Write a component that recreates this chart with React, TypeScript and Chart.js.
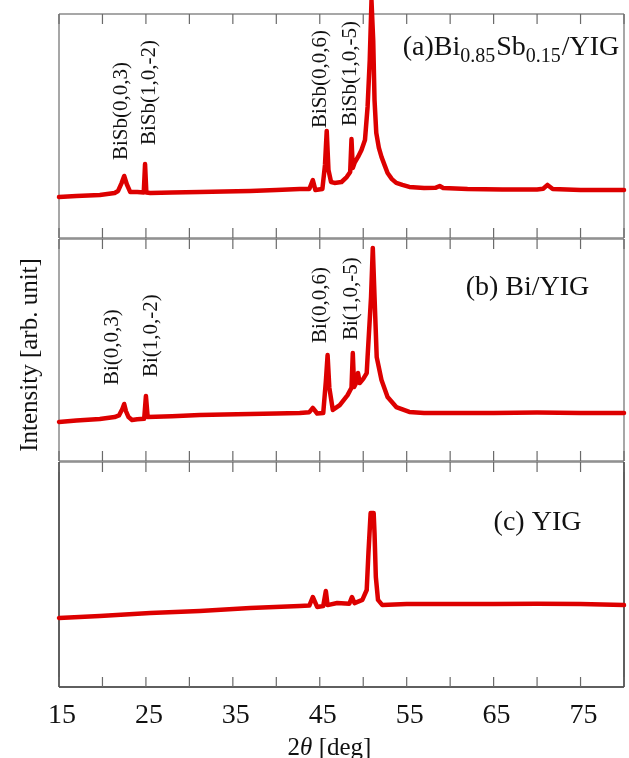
import React, { useEffect, useRef } from 'react';
import { Chart, registerables } from 'chart.js';
Chart.register(...registerables);

const FONT = '"Liberation Serif", "Times New Roman", Times, serif';
const RED = '#dd0000';

// x axis (2θ, deg)
const X_MIN = 15;
const X_MAX = 80;
const X_STEP = 5;
const xTickLabels = ['15', '25', '35', '45', '55', '65', '75'];

// (a) Bi0.85Sb0.15/YIG
const angleA = [15, 17, 19.7, 21.4, 21.8, 22.2, 22.5, 22.8, 23.2, 24.0, 24.75, 24.9, 25.05, 25.5, 28, 31.2, 34, 37, 40, 42.7, 43.8, 44.2, 44.5, 45.3, 45.6, 45.8, 46.0, 46.3, 46.7, 47.5, 48.1, 48.5, 48.65, 48.8, 49.0, 49.4, 49.8, 50.2, 50.5, 50.75, 50.95, 51.15, 51.3, 51.5, 51.8, 52.1, 52.5, 52.8, 53.3, 53.8, 54.5, 55.3, 57, 58.3, 58.8, 59.2, 62, 66, 70, 70.7, 71.2, 71.8, 75, 80];
const intensityA = [18.3, 18.8, 19.2, 20.1, 21, 24.5, 27.7, 24, 20.5, 20.5, 20.3, 33, 20.3, 20.1, 20.3, 20.5, 20.8, 21, 21.4, 21.9, 21.9, 25.9, 21.4, 21.9, 32.6, 47.8, 30.4, 25, 24.6, 25, 27.2, 29.5, 44.2, 31.3, 33.5, 36.2, 39.3, 43.75, 58.5, 79.5, 106, 88, 61.6, 46.9, 40.2, 36.2, 32.1, 29, 26.3, 24.6, 23.7, 22.8, 22.3, 22.4, 23.2, 22.3, 21.9, 21.7, 21.7, 22, 23.7, 21.9, 21.4, 21.4];

// (b) Bi/YIG
const angleB = [15, 17, 19.7, 21.4, 21.9, 22.3, 22.5, 22.7, 23.0, 23.4, 24.0, 24.8, 25.0, 25.2, 28, 31.2, 34, 37, 40, 42.7, 43.8, 44.2, 44.7, 45.4, 45.7, 45.9, 46.1, 46.5, 47.3, 48.2, 48.65, 48.8, 48.95, 49.3, 49.4, 49.6, 50.0, 50.4, 50.5, 50.9, 51.1, 51.3, 51.55, 52.1, 52.8, 53.8, 55.3, 57, 60, 65, 70, 75, 80];
const intensityB = [17.6, 18.2, 18.9, 19.8, 20.5, 23.5, 25.7, 22.5, 19.8, 18.5, 18.8, 19, 29.3, 19.8, 20.2, 20.7, 21, 21.2, 21.4, 21.6, 22, 23.9, 21.4, 21.6, 36, 47.7, 33, 23, 25.2, 29.7, 33, 48.6, 33.3, 36, 39.6, 35.1, 37, 39.6, 46.8, 73.9, 96, 73.9, 46.8, 36.5, 28.8, 24.3, 22.1, 21.6, 21.6, 21.6, 21.8, 21.6, 21.6];

// (c) YIG
const angleC = [15, 19.7, 25.5, 31.2, 37, 42.7, 43.8, 44.2, 44.7, 45.4, 45.7, 45.9, 47, 48.4, 48.7, 49.0, 49.9, 50.4, 50.6, 50.85, 51.2, 51.3, 51.45, 51.7, 52.2, 55, 60, 65, 70, 75, 80];
const intensityC = [30.7, 31.6, 32.9, 33.8, 35.1, 36, 36.2, 40, 35.6, 36, 42.7, 36.4, 37.3, 37, 40, 37.3, 38.7, 43.1, 59.6, 77.3, 77.3, 68.4, 48.9, 38.7, 36.4, 36.9, 36.9, 36.9, 37, 36.9, 36.4];

// peak annotations (text, 2θ, intensity where the rotated text starts)
const peakTextA = ['BiSb(0,0,3)', 'BiSb(1,0,-2)', 'BiSb(0,0,6)', 'BiSb(1,0,-5)'];
const peakXA = [22.24, 25.46, 45.1, 48.56];
const peakYA = [34.8, 41.5, 49.1, 50];
const peakTextB = ['Bi(0,0,3)', 'Bi(1,0,-2)', 'Bi(0,0,6)', 'Bi(1,0,-5)'];
const peakXB = [21.2, 25.69, 45.1, 48.6];
const peakYB = [34.2, 37.8, 53.2, 54.5];

// panel titles: [text, subscript?]
const titleA: [string, boolean][] = [['(a)Bi', false], ['0.85', true], ['Sb', false], ['0.15', true], ['/YIG', false]];
const titleB: [string, boolean][] = [['(b) Bi/YIG', false]];
const titleC: [string, boolean][] = [['(c) YIG', false]];
const titlePosA = [54.54, 81.7];
const titlePosB = [61.78, 74.8];
const titlePosC = [65.0, 69.8];

const yTitle = 'Intensity [arb. unit]';

type Extra = {
  peaks?: { text: string[]; x: number[]; y: number[] };
  title: [string, boolean][];
  titlePos: number[];
  sideColor: string;
  bottomColor: string;
  topColor: string;
  xLabels?: boolean;
  yTitle?: boolean;
};

function framePlugin(extra: Extra) {
  return {
    id: 'frame',
    beforeDatasetsDraw(chart: any) {
      const { ctx, chartArea } = chart;
      const { left, right, top, bottom } = chartArea;
      const xs = chart.scales.x;
      ctx.save();
      ctx.lineWidth = 1.5;
      ctx.strokeStyle = extra.topColor;
      ctx.beginPath(); ctx.moveTo(left, top); ctx.lineTo(right, top); ctx.stroke();
      ctx.strokeStyle = extra.bottomColor;
      ctx.beginPath(); ctx.moveTo(left, bottom); ctx.lineTo(right, bottom); ctx.stroke();
      ctx.strokeStyle = extra.sideColor;
      ctx.beginPath(); ctx.moveTo(left, top); ctx.lineTo(left, bottom); ctx.stroke();
      ctx.beginPath(); ctx.moveTo(right, top); ctx.lineTo(right, bottom); ctx.stroke();
      ctx.strokeStyle = '#6a6a6a';
      ctx.lineWidth = 1.2;
      for (let v = X_MIN; v <= X_MAX; v += X_STEP) {
        const px = xs.getPixelForValue(v);
        ctx.beginPath(); ctx.moveTo(px, top); ctx.lineTo(px, top + 10); ctx.stroke();
        ctx.beginPath(); ctx.moveTo(px, bottom); ctx.lineTo(px, bottom - 10); ctx.stroke();
      }
      ctx.restore();
    },
    afterDatasetsDraw(chart: any) {
      const { ctx, chartArea } = chart;
      const xs = chart.scales.x;
      const ys = chart.scales.y;
      ctx.save();
      ctx.fillStyle = '#111';
      if (extra.peaks) {
        ctx.font = `21px ${FONT}`;
        ctx.textAlign = 'left';
        ctx.textBaseline = 'middle';
        extra.peaks.text.forEach((t, i) => {
          ctx.save();
          ctx.translate(xs.getPixelForValue(extra.peaks!.x[i]), ys.getPixelForValue(extra.peaks!.y[i]));
          ctx.rotate(-Math.PI / 2);
          ctx.fillText(t, 0, 0);
          ctx.restore();
        });
      }
      // panel title
      ctx.textAlign = 'left';
      ctx.textBaseline = 'alphabetic';
      let tx = xs.getPixelForValue(extra.titlePos[0]);
      const ty = ys.getPixelForValue(extra.titlePos[1]);
      extra.title.forEach(([t, sub]) => {
        ctx.font = sub ? `20px ${FONT}` : `28px ${FONT}`;
        ctx.fillText(t, tx, sub ? ty + 7 : ty);
        tx += ctx.measureText(t).width + (sub ? 1 : 0);
      });
      if (extra.xLabels) {
        ctx.font = `28px ${FONT}`;
        ctx.textAlign = 'center';
        xTickLabels.forEach((lab) => {
          const px = xs.getPixelForValue(Number(lab));
          ctx.fillText(lab, px + 3, chartArea.bottom + 36);
        });
        // axis title 2θ [deg]
        const parts: [string, string][] = [['2', `25px ${FONT}`], ['θ', `italic 25px ${FONT}`], [' [deg]', `25px ${FONT}`]];
        let w = 0;
        parts.forEach(([t, f]) => { ctx.font = f; w += ctx.measureText(t).width; });
        let sx = (chartArea.left + chartArea.right) / 2 - 12 - w / 2;
        ctx.textAlign = 'left';
        parts.forEach(([t, f]) => {
          ctx.font = f;
          ctx.fillText(t, sx, chartArea.bottom + 68);
          sx += ctx.measureText(t).width;
        });
      }
      if (extra.yTitle) {
        ctx.save();
        ctx.font = `25px ${FONT}`;
        ctx.textAlign = 'center';
        ctx.textBaseline = 'middle';
        ctx.translate(30, chartArea.top + 116);
        ctx.rotate(-Math.PI / 2);
        ctx.fillText(yTitle, 0, 0);
        ctx.restore();
      }
      ctx.restore();
    },
  };
}

function makeChart(canvas: HTMLCanvasElement, xsArr: number[], ysArr: number[], padding: any, extra: Extra) {
  return new Chart(canvas, {
    type: 'line',
    data: {
      datasets: [{
        data: xsArr.map((x, i) => ({ x, y: ysArr[i] })),
        borderColor: RED,
        borderWidth: 4.5,
        pointRadius: 0,
        tension: 0,
        clip: false as any,
        borderJoinStyle: 'round',
        borderCapStyle: 'round',
      }],
    },
    options: {
      responsive: false,
      maintainAspectRatio: false,
      animation: false,
      events: [],
      layout: { padding },
      plugins: { legend: { display: false }, tooltip: { enabled: false } },
      scales: {
        x: { type: 'linear', min: X_MIN, max: X_MAX, display: false },
        y: { type: 'linear', min: 0, max: 100, display: false },
      },
    } as any,
    plugins: [framePlugin(extra)],
  });
}

export default function App() {
  const c1 = useRef<HTMLCanvasElement>(null);
  const c2 = useRef<HTMLCanvasElement>(null);
  const c3 = useRef<HTMLCanvasElement>(null);

  useEffect(() => {
    const gray = '#8a8a8a';
    const dark = '#2a2a2a';
    const ch1 = makeChart(c1.current!, angleA, intensityA, { top: 14, bottom: 10, left: 59, right: 5 }, {
      peaks: { text: peakTextA, x: peakXA, y: peakYA }, title: titleA, titlePos: titlePosA,
      sideColor: gray, topColor: gray, bottomColor: gray,
    });
    const ch2 = makeChart(c2.current!, angleB, intensityB, { top: 9, bottom: 9, left: 59, right: 5 }, {
      peaks: { text: peakTextB, x: peakXB, y: peakYB }, title: titleB, titlePos: titlePosB,
      sideColor: gray, topColor: gray, bottomColor: gray, yTitle: true,
    });
    const ch3 = makeChart(c3.current!, angleC, intensityC, { top: 10, bottom: 85, left: 59, right: 5 }, {
      title: titleC, titlePos: titlePosC,
      sideColor: dark, topColor: gray, bottomColor: dark, xLabels: true,
    });
    return () => { ch1.destroy(); ch2.destroy(); ch3.destroy(); };
  }, []);

  const cs: React.CSSProperties = { position: 'absolute', left: 0, display: 'block' };
  return (
    <div style={{ position: 'absolute', left: 0, top: 0, width: 629, height: 772, background: '#fff' }}>
      <canvas ref={c1} width={629} height={248} style={{ ...cs, top: 0, width: 629, height: 248 }} />
      <canvas ref={c2} width={629} height={240} style={{ ...cs, top: 230, width: 629, height: 240 }} />
      <canvas ref={c3} width={629} height={320} style={{ ...cs, top: 452, width: 629, height: 320 }} />
    </div>
  );
}
